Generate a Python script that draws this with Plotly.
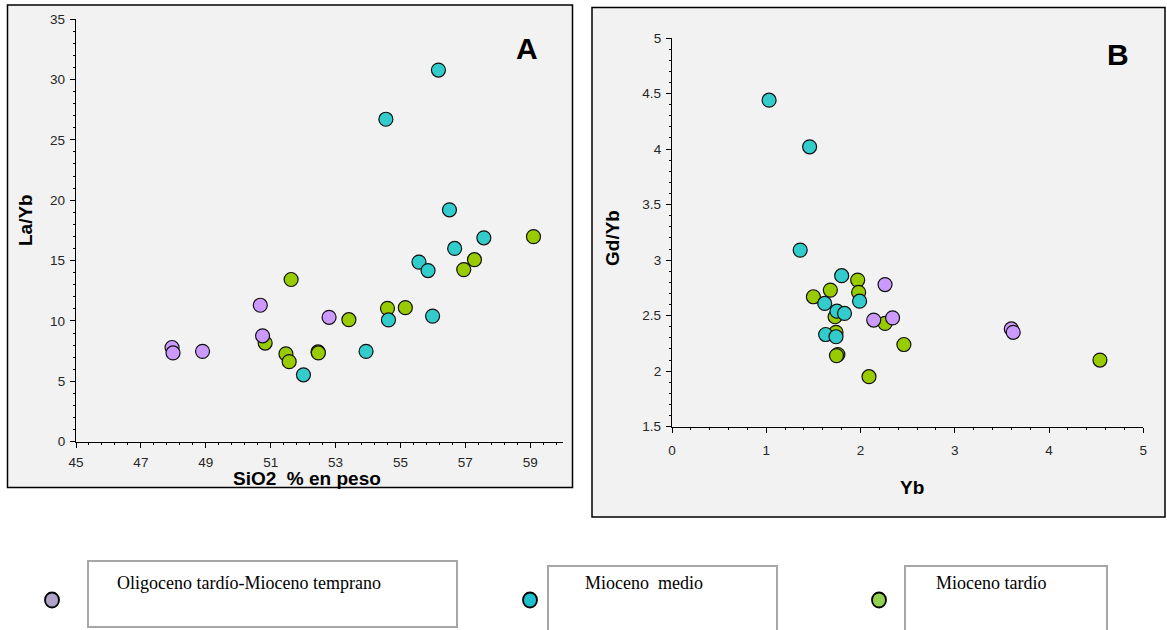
import plotly.graph_objects as go

W, H = 1167, 630

# ---- Panel A: SiO2 (wt %) vs La/Yb ----
olig_sio2 = [47.96, 47.99, 48.90, 50.68, 50.75, 52.80]
olig_layb = [7.80, 7.35, 7.48, 11.30, 8.77, 10.30]

medio_sio2 = [52.01, 53.94, 54.63, 55.99, 55.57, 55.85, 56.67, 56.51, 57.57, 56.17, 54.55]
medio_layb = [5.54, 7.48, 10.08, 10.40, 14.87, 14.17, 16.00, 19.20, 16.88, 30.77, 26.70]

tardio_sio2 = [50.83, 51.63, 51.47, 51.57, 52.46, 52.47, 53.41, 54.60, 55.15, 56.95, 57.28, 59.10]
tardio_layb = [8.17, 13.43, 7.27, 6.63, 7.43, 7.35, 10.10, 11.04, 11.10, 14.25, 15.07, 16.98]

# ---- Panel B: Yb vs Gd/Yb ----
olig_yb = [2.26, 2.14, 2.34, 3.60, 3.62]
olig_gdyb = [2.78, 2.46, 2.48, 2.38, 2.35]

medio_yb = [1.03, 1.46, 1.36, 1.80, 1.99, 1.62, 1.75, 1.83, 1.63, 1.74]
medio_gdyb = [4.44, 4.02, 3.09, 2.86, 2.63, 2.61, 2.54, 2.52, 2.33, 2.31]

tardio_yb = [1.97, 1.98, 1.50, 1.68, 1.73, 1.74, 1.76, 1.745, 2.09, 2.26, 2.46, 4.54]
tardio_gdyb = [2.82, 2.71, 2.67, 2.73, 2.49, 2.35, 2.15, 2.14, 1.95, 2.43, 2.24, 2.10]

legend_labels = ["Oligoceno tardío-Mioceno temprano", "Mioceno\u00a0\u00a0medio", "Mioceno tardío"]

C_OLIG, C_MEDIO, C_TARDIO = "#CC99FF", "#33CCCC", "#99CC00"
LEG_COLORS = ["#B3A2C7", "#1FC0CC", "#92D050"]


def px(x):
    return x / W


def py(y):
    return 1 - y / H


marker_line = dict(color="#111111", width=1.2)


def pts(x, y, color, xa, ya):
    return go.Scatter(
        x=x, y=y, mode="markers", xaxis=xa, yaxis=ya, showlegend=False,
        hoverinfo="skip",
        marker=dict(size=14, color=color, line=marker_line),
    )


fig = go.Figure()
# drawing order: late Miocene, middle Miocene, then Oligocene on top
for xa, ya, sets in [
    ("x", "y", [(tardio_sio2, tardio_layb, C_TARDIO), (medio_sio2, medio_layb, C_MEDIO),
                (olig_sio2, olig_layb, C_OLIG)]),
    ("x2", "y2", [(tardio_yb, tardio_gdyb, C_TARDIO), (medio_yb, medio_gdyb, C_MEDIO),
                  (olig_yb, olig_gdyb, C_OLIG)]),
]:
    for x, y, c in sets:
        fig.add_trace(pts(x, y, c, xa, ya))

tick_font = dict(family="Liberation Sans, Arial, sans-serif", size=13.5, color="#262626")
axis_common = dict(
    showline=True, linecolor="#000000", linewidth=1.3, showgrid=False, zeroline=False,
    ticks="outside", ticklen=5, tickwidth=1.2, tickcolor="#000000", tickfont=tick_font,
    fixedrange=True, automargin=False,
)

fig.update_layout(
    template="none",
    width=W, height=H, autosize=False,
    margin=dict(l=0, r=0, t=0, b=0, pad=0),
    paper_bgcolor="#FFFFFF", plot_bgcolor="rgba(0,0,0,0)",
    showlegend=False,
    xaxis=dict(**axis_common, domain=[px(76), px(562.7)], range=[45, 60], tick0=45, dtick=2,
               anchor="y", ticklabelstandoff=3,
               minor=dict(dtick=0.4, tick0=45, ticks="outside", ticklen=2, tickcolor="#000")),
    yaxis=dict(**axis_common, domain=[py(441.7), py(19)], range=[0, 35], dtick=5,
               anchor="x", ticklabelstandoff=2,
               minor=dict(dtick=1, ticks="outside", ticklen=2, tickcolor="#000")),
    xaxis2=dict(**axis_common, domain=[px(672), px(1143.3)], range=[0, 5], dtick=1,
                anchor="y2", ticklabelstandoff=6,
                minor=dict(dtick=0.2, ticks="outside", ticklen=2, tickcolor="#000")),
    yaxis2=dict(**axis_common, domain=[py(426.7), py(38)], range=[1.5, 5], dtick=0.5,
                anchor="x2", ticklabelstandoff=2,
                minor=dict(dtick=0.1, ticks="outside", ticklen=2, tickcolor="#000")),
)

# chart-area frames
frame = dict(type="rect", xref="paper", yref="paper", layer="below",
             fillcolor="#F2F2F2", line=dict(color="#000000", width=1.5))
fig.add_shape(**frame, x0=px(7.5), x1=px(572.5), y0=py(487.5), y1=py(5))
fig.add_shape(**frame, x0=px(592), x1=px(1165), y0=py(517), y1=py(7.5))

title_font = dict(family="Liberation Sans, Arial, sans-serif", size=19, color="#000000")
bold = lambda s: f"<b>{s}</b>"
annots = [
    dict(x=px(307), y=py(478), text=bold("SiO2\u00a0\u00a0% en peso"), font=title_font),
    dict(x=px(25), y=py(220), text=bold("La/Yb"), font=title_font, textangle=-90),
    dict(x=px(612), y=py(238), text=bold("Gd/Yb"), font=title_font, textangle=-90),
    dict(x=px(912), y=py(487), text=bold("Yb"), font=title_font),
    dict(x=px(527), y=py(49), text=bold("A"),
         font=dict(family="Liberation Sans, Arial, sans-serif", size=30, color="#000")),
    dict(x=px(1118), y=py(54), text=bold("B"),
         font=dict(family="Liberation Sans, Arial, sans-serif", size=30, color="#000")),
]
for a in annots:
    fig.add_annotation(xref="paper", yref="paper", showarrow=False,
                       xanchor="center", yanchor="middle", **a)

# legend: marker, framed label box, label text
leg_marker_x = [52, 530, 879]
leg_box = [(88, 457, 561, 627), (548, 777, 566, 640), (905, 1107, 566, 640)]
leg_text_x = [115, 583, 934]
for i, lab in enumerate(legend_labels):
    cx, cy, r = leg_marker_x[i], 600, 7.5
    fig.add_shape(type="circle", xref="paper", yref="paper",
                  x0=px(cx - r + 0.5), x1=px(cx + r - 0.5), y0=py(cy + r), y1=py(cy - r),
                  fillcolor=LEG_COLORS[i], line=dict(color="#000000", width=1.8))
    bx0, bx1, by0, by1 = leg_box[i]
    fig.add_shape(type="rect", xref="paper", yref="paper",
                  x0=px(bx0), x1=px(bx1), y0=py(by1), y1=py(by0),
                  fillcolor="#FFFFFF", line=dict(color="#A6A6A6", width=2))
    fig.add_annotation(xref="paper", yref="paper", showarrow=False,
                       x=px(leg_text_x[i]), y=py(583), xanchor="left", yanchor="middle",
                       text=lab,
                       font=dict(family="Liberation Serif, serif", size=18, color="#000000"))

fig.write_html("out.html")
